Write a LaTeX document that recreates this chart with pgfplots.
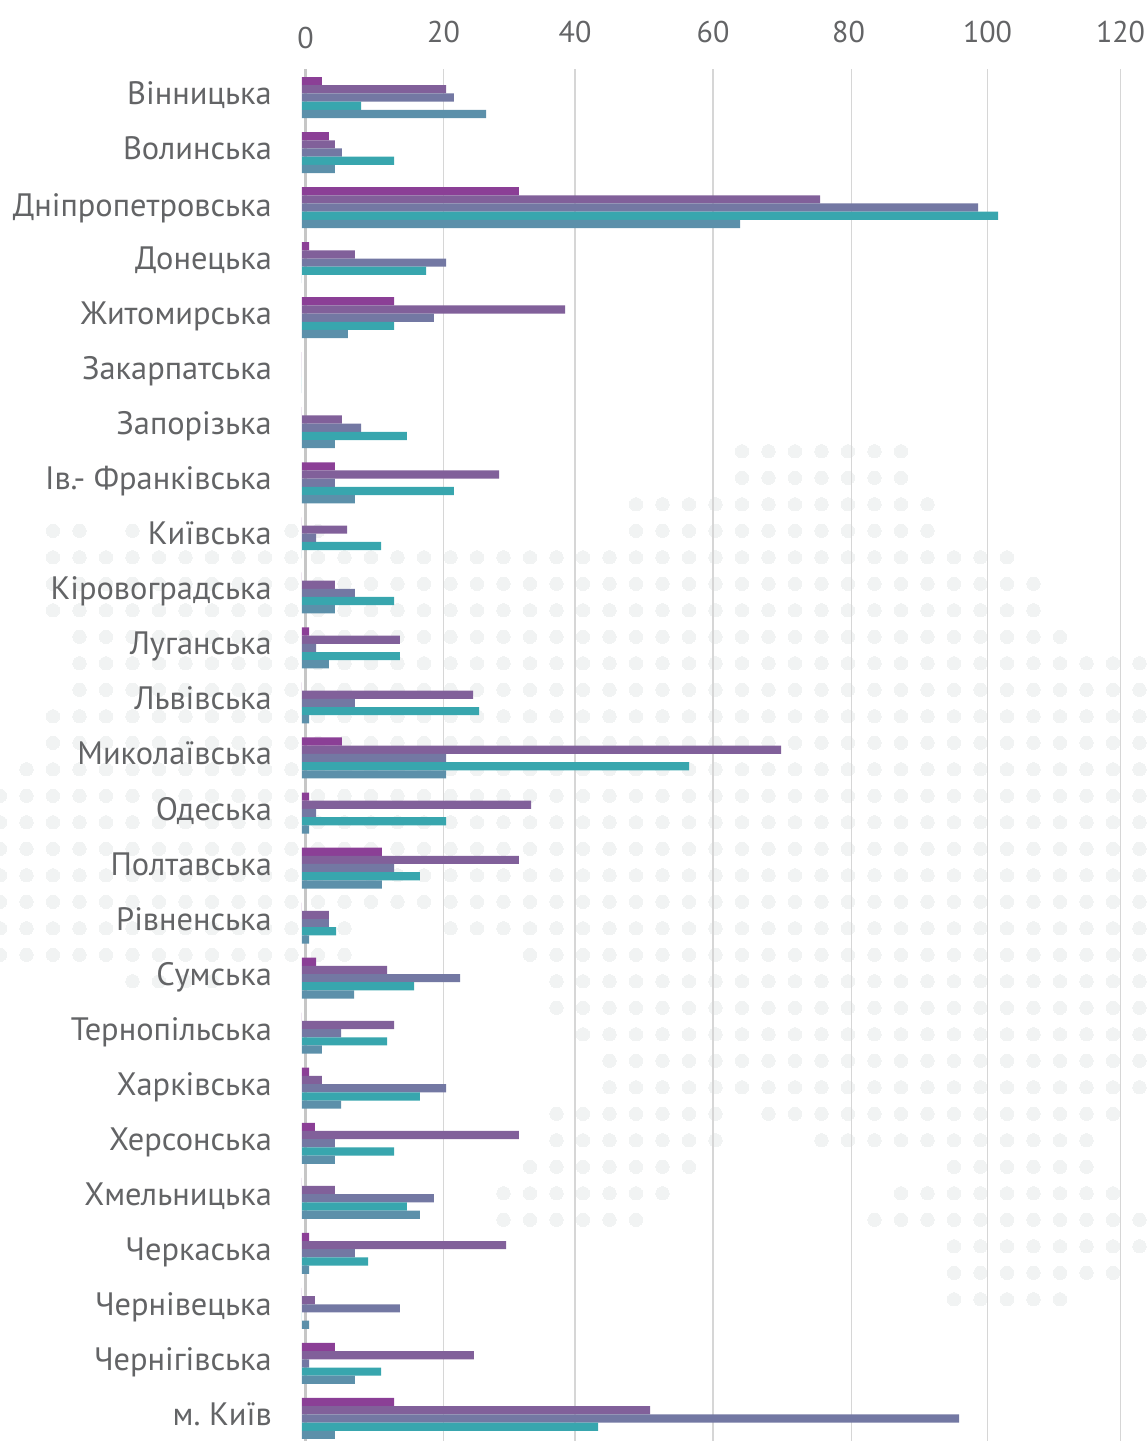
\documentclass[border=0pt]{standalone}
\usepackage{fontspec}
\setmainfont{PT Sans}
\usepackage{pgfplots}
\usepackage{pgfplotstable}
\pgfplotsset{compat=1.18}
\frenchspacing

\definecolor{txt}{HTML}{636466}
\definecolor{dotc}{HTML}{F1F3F3}
\definecolor{gridc}{HTML}{D6D6D6}
\definecolor{zeroc}{HTML}{C6C6C6}
\definecolor{sa}{HTML}{8B3F96}
\definecolor{sb}{HTML}{81609A}
\definecolor{sc}{HTML}{7378A3}
\definecolor{sd}{HTML}{38A6AE}
\definecolor{se}{HTML}{5C90AA}

\pgfplotstableread{
y s1 s2 s3 s4 s5
0 2.94 21.18 22.35 8.68 27.06
1 3.97 4.85 5.88 13.53 4.85
2 31.91 76.18 99.41 102.35 64.41
3 1.03 7.79 21.18 18.24 0
4 13.53 38.68 19.41 13.53 6.76
5 0 0 0 0 0
6 0 5.88 8.68 15.44 4.85
7 4.85 28.97 4.85 22.35 7.79
8 0 6.62 2.06 11.62 0
9 0 4.85 7.79 13.53 4.85
10 1.03 14.41 2.06 14.41 3.97
11 0 25.15 7.79 26.03 1.03
12 5.88 70.44 21.18 56.91 21.18
13 1.03 33.68 2.06 21.18 1.03
14 11.76 31.91 13.53 17.35 11.76
15 0 3.97 3.97 5 1.03
16 2.06 12.5 23.24 16.47 7.65
17 0 13.53 5.74 12.5 2.94
18 1.03 2.94 21.18 17.35 5.74
19 1.91 31.91 4.85 13.53 4.85
20 0 4.85 19.41 15.44 17.35
21 1.03 30 7.79 9.71 1.03
22 0 1.91 14.41 0 1.03
23 4.85 25.29 1.03 11.62 7.79
24 13.53 51.18 96.62 43.53 4.85
}\regions

% background dot map: row/first column/last column
\def\dotlist{}
\foreach \r/\a/\b in {
17/28/34, 18/28/34, 19/24/35, 20/2/3, 20/5/5, 20/11/12, 20/24/35,
21/2/38, 22/2/39, 23/2/39, 24/3/40, 25/3/43, 26/3/43, 27/2/43, 28/2/43,
29/1/43, 30/0/43, 31/0/43, 32/0/43, 33/0/43, 34/0/43,
35/0/13, 35/17/43, 36/0/13, 36/20/43, 37/5/8, 37/21/43, 38/21/43,
39/22/43, 40/23/43, 41/23/43, 42/21/27, 42/29/42, 43/21/27, 43/31/41,
44/20/26, 44/36/41, 45/19/25, 45/34/42, 46/19/24, 46/33/43,
47/36/43, 48/36/42, 49/36/40}{
  \foreach \c in {\a,...,\b}{\xdef\dotlist{\dotlist (\c,\r)}}
}

\pgfplotsset{
  dotstyle/.style={only marks, color=dotc, mark=*, mark size=6.65pt,
    mark options={draw=dotc, fill=dotc, line width=0pt}, forget plot},
  reg/.style={xbar, bar width=8.2pt, draw=none, fill=#1},
}

\begin{document}
\begin{tikzpicture}
\useasboundingbox (0,0) rectangle (1147pt,1441pt);

\begin{axis}[
  at={(0pt,0pt)}, anchor=south west,
  scale only axis, width=1147pt, height=1441pt,
  hide axis,
  xmin=0, xmax=43.283,
  ymin=-0.03, ymax=54.347, y dir=reverse,
]
\edef\temp{\noexpand\addplot[dotstyle] coordinates {\dotlist};}
\temp
\end{axis}

\begin{axis}[
  at={(302pt,0pt)}, anchor=south west,
  scale only axis, width=845pt, height=1372pt,
  xmin=0, xmax=124.26,
  ymin=-0.518, ymax=24.41, y dir=reverse,
  axis line style={draw=none},
  major tick length=0pt,
  xticklabel pos=top,
  xmajorgrids,
  grid style={line width=1.3pt, gridc},
  xtick={20.81,40.15,60.44,80.81,100.81,120.37},
  xticklabels={20,40,60,{80\hspace*{6pt}},100,120},
  extra x ticks={0.51},
  extra x tick labels={\raisebox{-6.5pt}{0}},
  extra x tick style={grid style={line width=3pt, zeroc}},
  xticklabel style={anchor=base, yshift=27pt, inner sep=0pt,
    font=\fontsize{30}{34}\selectfont, text=txt},
  ytick={0,...,24},
  yticklabels={Вінницька,Волинська,\raisebox{-1.5pt}{Дніпропетровська},Донецька,Житомирська,
    Закарпатська,Запорізька,Ів.- Франківська,Київська,Кіровоградська,
    Луганська,Львівська,Миколаївська,Одеська,Полтавська,Рівненська,Сумська,
    Тернопільська,Харківська,Херсонська,Хмельницька,Черкаська,Чернівецька,
    Чернігівська,м. Київ},
  yticklabel style={anchor=base east, xshift=-30pt, yshift=-7pt, inner sep=0pt,
    font=\fontsize{32.4}{36}\selectfont, text=txt},
]
\addplot[reg=sa, bar shift=16.4pt] table[x=s1, y=y] {\regions};
\addplot[reg=sb, bar shift=8.2pt] table[x=s2, y=y] {\regions};
\addplot[reg=sc, bar shift=0pt] table[x=s3, y=y] {\regions};
\addplot[reg=sd, bar shift=-8.2pt] table[x=s4, y=y] {\regions};
\addplot[reg=se, bar shift=-16.4pt] table[x=s5, y=y] {\regions};
\end{axis}
\end{tikzpicture}
\end{document}
